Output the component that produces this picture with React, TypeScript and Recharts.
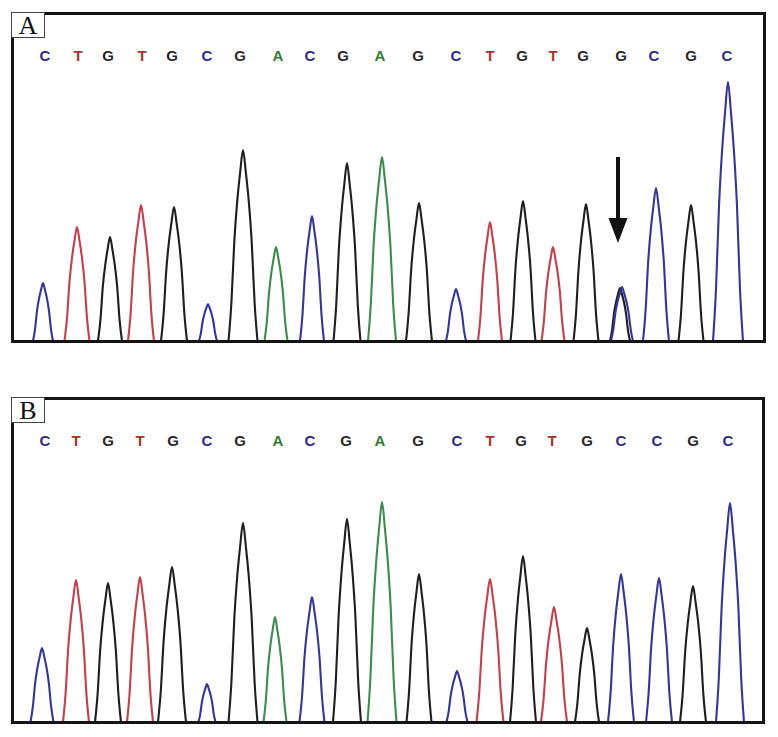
import * as React from "react";
import { LineChart, Line, XAxis, YAxis, ReferenceLine } from "recharts";

// ── Data ────────────────────────────────────────────────────────────────

// base calls printed above each trace
const CALLS_A = ["C","T","G","T","G","C","G","A","C","G","A","G","C","T","G","T","G","G","C","G","C"];
const CALLS_B = ["C","T","G","T","G","C","G","A","C","G","A","G","C","T","G","T","G","C","C","G","C"];
const CALL_POS_A = [45,78,108,142,172,207,240,278,310,343,380,418,456,490,522,553,583,621,654,691,727];
const CALL_POS_B = [45,76,108,140,173,207,240,278,310,346,380,418,457,490,521,552,587,621,657,693,728];

// peaks: channel, scan position, height, half-width at the foot
const TRACE_A = ["C","T","G","T","G","C","G","A","C","G","A","G","C","T","G","T","G","C","C","G","C"];
const POS_A = [43,77,110,141,174,208,243,276,312,347,382,419,456,490,523,553,586,622,656,691,728];
const HEIGHT_A = [58,114,104,136,134,37,191,94,125,178,184,138,52,119,140,94,137,54,153,136,259];
const HALF_A = [10,12.5,12,13,13,9,14.5,11.5,12,13.5,14,13,10,12,12.5,11.5,12.5,11,13,12.5,15];
// black shadow under the mixed peak (arrow)
const EXTRA_A_TRACE = ["G"];
const EXTRA_A_POS = [620];
const EXTRA_A_HEIGHT = [53];
const EXTRA_A_HALF = [10];

const TRACE_B = CALLS_B;
const POS_B = [42,76,108,140,172,207,243,275,312,347,382,419,457,490,523,554,587,621,659,693,730];
const HEIGHT_B = [74,142,139,145,155,38,199,105,125,203,220,148,51,143,166,115,94,148,144,136,219];
const HALF_B = [11.5,13,13,13,14,8.5,14.5,11.5,12.5,14,14.5,12.5,10.5,13.5,13,13,12,13,13,13,14];

// peak profile measured on the tall G peak (offset / half-width, height / peak height)
const SHAPE_DX = [-1,-0.8,-0.6,-0.4,-0.2,0,0.2,0.4,0.6,0.8,1];
const SHAPE_Y = [0,0.2,0.52,0.73,0.88,1,0.88,0.73,0.52,0.2,0];

const TRACE_COLOR: Record<string, string> = { C: "#36369a", T: "#c63f4c", G: "#1e1e1e", A: "#3d8c4c" };
const CALL_COLOR: Record<string, string> = { C: "#2c2c88", T: "#a8342c", G: "#2a2a2a", A: "#2f7b31" };

// ── Helpers ─────────────────────────────────────────────────────────────

function peakPoints(pos: number, height: number, half: number) {
  return SHAPE_DX.map((d, i) => ({ x: pos + d * half, y: height * SHAPE_Y[i] }));
}

function CallTick(props: any) {
  const { x, index, calls, row } = props;
  const b = calls[index];
  if (!b) return null;
  return (
    <text x={x} y={row} textAnchor="middle" dominantBaseline="central"
      fontFamily="Liberation Sans, Arial, sans-serif" fontWeight={700} fontSize={15} fill={CALL_COLOR[b]}>
      {b}
    </text>
  );
}

function ArrowShape(props: any) {
  const { x1, y1, x2, y2 } = props;
  const top = Math.min(y1, y2);
  const tip = Math.max(y1, y2);
  return (
    <g>
      <line x1={x1} x2={x1} y1={top} y2={tip - 20} stroke="#111" strokeWidth={4} />
      <polygon points={`${x2 - 9.5},${tip - 25} ${x2 + 9.5},${tip - 25} ${x2},${tip}`} fill="#111" />
    </g>
  );
}

function Panel({ label, top, height, plotH, calls, callPos, trace, pos, heights, halves, extra, arrow, frame }: any) {
  const W = 778;
  const plotTop = 12;
  const bottom = height - plotTop - plotH;
  const row = 55;
  return (
    <div style={{ position: "absolute", left: 0, top, width: W, height }}>
      <LineChart width={W} height={height} margin={{ top: plotTop, right: 14, bottom, left: 12 }}>
        <XAxis type="number" dataKey="x" domain={[12, 764]} allowDataOverflow orientation="top" mirror height={30}
          ticks={callPos} interval={0} axisLine={false} tickLine={false}
          tick={<CallTick calls={calls} row={row} />} />
        <YAxis type="number" domain={[0, plotH]} hide allowDataOverflow />
        {extra && extra.pos.map((p: number, i: number) => (
          <Line key={`e${i}`} data={peakPoints(p, extra.height[i], extra.half[i])} dataKey="y" type="monotone"
            stroke={TRACE_COLOR[extra.trace[i]]} strokeWidth={2.1} dot={false} activeDot={false} isAnimationActive={false} />
        ))}
        {pos.map((p: number, i: number) => (
          <Line key={i} data={peakPoints(p, heights[i], halves[i])} dataKey="y" type="monotone"
            stroke={TRACE_COLOR[trace[i]]} strokeWidth={2.1} dot={false} activeDot={false} isAnimationActive={false} />
        ))}
        {arrow && (
          <ReferenceLine segment={[{ x: arrow.x, y: arrow.from }, { x: arrow.x, y: arrow.to }]} shape={ArrowShape} />
        )}
      </LineChart>
      <div style={{ position: "absolute", left: 11, top: frame.top, width: frame.right - 11, height: frame.bottom - frame.top,
        border: "3px solid #141414", boxSizing: "border-box", pointerEvents: "none" }} />
      <div style={{ position: "absolute", left: 11, top: frame.top, width: 34, height: 26, border: "1px solid #444",
        background: "#fff", boxSizing: "border-box", fontFamily: "Liberation Serif, Times New Roman, serif",
        fontSize: 26, lineHeight: "26px", textAlign: "center", color: "#111" }}>
        {label}
      </div>
    </div>
  );
}

export default function App() {
  return (
    <div style={{ position: "absolute", left: 0, top: 0, width: 778, height: 737, background: "#fff", overflow: "hidden" }}>
      <Panel label="A" top={0} height={350} plotH={329} calls={CALLS_A} callPos={CALL_POS_A}
        trace={TRACE_A} pos={POS_A} heights={HEIGHT_A} halves={HALF_A}
        extra={{ trace: EXTRA_A_TRACE, pos: EXTRA_A_POS, height: EXTRA_A_HEIGHT, half: EXTRA_A_HALF }}
        arrow={{ x: 618, from: 184, to: 98 }}
        frame={{ top: 12, bottom: 343, right: 766 }} />
      <Panel label="B" top={385} height={346} plotH={325} calls={CALLS_B} callPos={CALL_POS_B}
        trace={TRACE_B} pos={POS_B} heights={HEIGHT_B} halves={HALF_B}
        frame={{ top: 12, bottom: 339, right: 765 }} />
    </div>
  );
}
